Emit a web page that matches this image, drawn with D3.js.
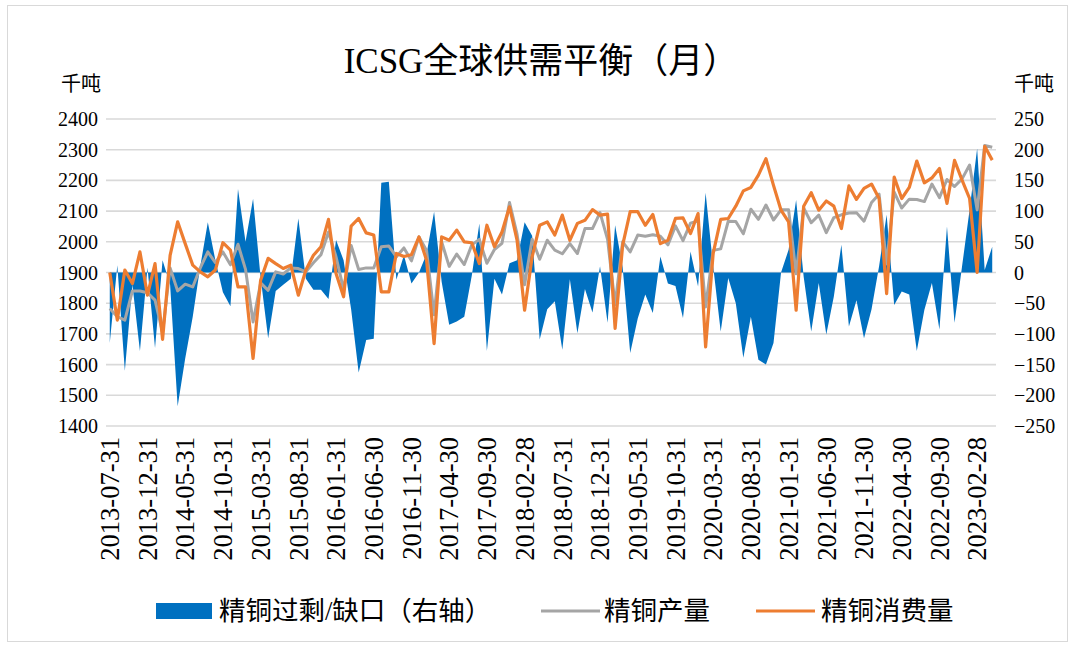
<!DOCTYPE html>
<html>
<head>
<meta charset="utf-8">
<script src="https://cdn.jsdelivr.net/npm/d3@7"></script>
<style>
  body { margin: 0; background: #fff; }
  svg text { font-family: "Liberation Serif", "Noto Sans CJK SC", serif; fill: #000; }
</style>
</head>
<body>
<svg width="1075" height="646"></svg>
<script>
var svg = d3.select("svg");
var width = 1075;
var height = 646;
var margin = { top: 119, right: 79, bottom: 220, left: 106 };   // plot area 106..996 x 119..426

// month labels, 2013-07 .. 2023-04 (month end dates)
var months = [];
for (var y = 2013; y <= 2023; y++) {
    for (var m = 1; m <= 12; m++) {
        if (y === 2013 && m < 7) continue;
        if (y === 2023 && m > 4) continue;
        var last = new Date(Date.UTC(y, m, 0)).getUTCDate();
        months.push(y + "-" + String(m).padStart(2, "0") + "-" + last);
    }
}

// refined copper surplus / deficit, kt (right axis)
var balance = [
    -115, 12, -160, -20, -128, 8, -123, 20, -20, -218,
    -140, -72, 10, 82, 20, -32, -55, 136, 50, 120,
    -8, -107, -30, -20, -10, 88, -10, -28, -28, -43,
    53, 20, -60, -163, -110, -108, 146, 148, -12, 28,
    -18, 0, 30, 99, -15, -85, -80, -72, -5, 80,
    -128, -10, -36, 15, 20, 82, 60, -109, -60, -47,
    -126, -11, -99, -27, -65, 10, -82, 77, 8, -131,
    -75, -36, -66, 26, -18, -22, -74, 34, -23, 130,
    10, -96, -9, -50, -139, -72, -142, -150, -115, 0,
    37, 118, -7, -96, -17, -101, -39, 45, -88, -45,
    -107, -60, 10, 94, -53, -31, -36, -128, -61, -17,
    -93, 75, -82, 10, 102, 202, 4, 42
];

// refined copper production, kt (left axis)
var production = [
    1783, 1756, 1745, 1840, 1840, 1834, 1810, 1705, 1915, 1840,
    1862, 1853, 1915, 1967, 1932, 1967, 1925, 1992, 1910, 1739,
    1866, 1842, 1902, 1895, 1915, 1913, 1902, 1932, 1958, 2032,
    1951, 1845, 1988, 1910, 1915, 1915, 1984, 1986, 1951, 1980,
    1938, 2016, 1972, 1762, 2000, 1920, 1960, 1926, 1990, 2008,
    1930, 1975, 1995, 2128, 2025, 1860, 2008, 1943, 2005, 1973,
    1961, 1994, 1962, 2043, 2043, 2095, 2008, 1795, 2000, 1967,
    2022, 2018, 2023, 2018, 1990, 2052, 2004, 2061, 2068, 1788,
    1972, 1977, 2067, 2066, 2026, 2106, 2073, 2120, 2071, 2104,
    2104, 1896, 2110, 2062, 2087, 2030, 2079, 2088, 2094, 2095,
    2067, 2128, 2155, 1928, 2162, 2110, 2139, 2138, 2131, 2188,
    2144, 2203, 2180, 2205, 2250, 2104, 2314, 2308
];

// refined copper consumption, kt (left axis)
var consumption = [
    1900, 1745, 1908, 1864, 1967, 1826, 1929, 1682, 1956, 2065,
    1994, 1924, 1902, 1886, 1908, 1997, 1973, 1853, 1853, 1620,
    1875, 1946, 1929, 1913, 1924, 1826, 1908, 1956, 1984, 2073,
    1897, 1821, 2051, 2076, 2029, 2022, 1837, 1837, 1962, 1952,
    1958, 2016, 1940, 1668, 2016, 2005, 2038, 2000, 1997, 1929,
    2054, 1984, 2032, 2114, 2005, 1777, 1951, 2054, 2065, 2022,
    2087, 2005, 2060, 2070, 2105, 2087, 2090, 1718, 1989, 2098,
    2098, 2054, 2089, 1994, 2005, 2076, 2078, 2027, 2092, 1658,
    1962, 2073, 2076, 2116, 2166, 2177, 2217, 2271, 2184, 2103,
    2065, 1777, 2116, 2160, 2103, 2133, 2116, 2043, 2182, 2138,
    2174, 2188, 2141, 1831, 2211, 2141, 2177, 2263, 2192, 2208,
    2239, 2125, 2265, 2201, 2141, 1900, 2311, 2266
];

var leftTicks = [1400, 1500, 1600, 1700, 1800, 1900, 2000, 2100, 2200, 2300, 2400];
var rightTicks = [-250, -200, -150, -100, -50, 0, 50, 100, 150, 200, 250];
var seriesNames = ["精铜过剩/缺口（右轴）", "精铜产量", "精铜消费量"];
var colors = ["#0070C0", "#A5A5A5", "#ED7D31"];

// outer frame
svg.append("rect")
    .attr("x", 7.5).attr("y", 5.5)
    .attr("width", 1060).attr("height", 636)
    .attr("fill", "none")
    .attr("stroke", "#D9D9D9");

svg.append("text")
    .attr("x", 541)
    .attr("y", 73)
    .attr("text-anchor", "middle")
    .attr("font-size", 35)
    .text("ICSG全球供需平衡（月）");

svg.append("text").attr("x", 61).attr("y", 91).attr("font-size", 20).text("千吨");
svg.append("text").attr("x", 1014).attr("y", 91).attr("font-size", 20).text("千吨");

// scales in page coordinates
var x = d3.scaleBand()
    .domain(months)
    .range([margin.left, width - margin.right]);

var yLeft = d3.scaleLinear()
    .domain([1400, 2400])
    .range([height - margin.bottom, margin.top]);

var yRight = d3.scaleLinear()
    .domain([-250, 250])
    .range([height - margin.bottom, margin.top]);

var cx = function(d, i) { return x(months[i]) + x.bandwidth() / 2; };

// gridlines
svg.selectAll(".grid")
    .data(leftTicks)
    .enter()
    .append("line")
    .attr("class", "grid")
    .attr("x1", margin.left)
    .attr("x2", width - margin.right)
    .attr("y1", d => yLeft(d))
    .attr("y2", d => yLeft(d))
    .attr("stroke", "#D9D9D9")
    .attr("stroke-width", 1.6);

// left tick labels
svg.selectAll(".ltick")
    .data(leftTicks)
    .enter()
    .append("text")
    .attr("class", "ltick")
    .attr("x", margin.left - 8)
    .attr("y", d => yLeft(d))
    .attr("dy", "0.35em")
    .attr("text-anchor", "end")
    .attr("font-size", 20)
    .text(d3.format("d"));

// right tick labels
svg.selectAll(".rtick")
    .data(rightTicks)
    .enter()
    .append("text")
    .attr("class", "rtick")
    .attr("x", width - margin.right + 18)
    .attr("y", d => yRight(d))
    .attr("dy", "0.35em")
    .attr("text-anchor", "start")
    .attr("font-size", 20)
    .text(d3.format("d"));

// date labels, every 5th month, rotated
var shown = months.filter((d, i) => i % 5 === 0);
svg.selectAll(".xtick")
    .data(shown)
    .enter()
    .append("text")
    .attr("class", "xtick")
    .attr("transform", d => "translate(" + (x(d) + x.bandwidth() / 2) + "," + (height - margin.bottom + 11) + ") rotate(-90)")
    .attr("dy", "0.35em")
    .attr("text-anchor", "end")
    .attr("font-size", 26.5)
    .text(d => d);

// surplus / deficit area
var area = d3.area()
    .x(cx)
    .y0(yRight(0))
    .y1(d => yRight(d));

svg.append("path")
    .datum(balance)
    .attr("d", area)
    .attr("fill", colors[0]);

var line = d3.line()
    .x(cx)
    .y(d => yLeft(d));

svg.append("path")
    .datum(production)
    .attr("d", line)
    .attr("fill", "none")
    .attr("stroke", colors[1])
    .attr("stroke-width", 3)
    .attr("stroke-linejoin", "round");

svg.append("path")
    .datum(consumption)
    .attr("d", line)
    .attr("fill", "none")
    .attr("stroke", colors[2])
    .attr("stroke-width", 3.2)
    .attr("stroke-linejoin", "round");

// legend
var legendY = 611;
var legendX = [[156, 219], [541, 604], [756, 821]];

svg.append("rect")
    .attr("x", legendX[0][0]).attr("y", legendY - 8)
    .attr("width", 56).attr("height", 16)
    .attr("fill", colors[0]);

svg.selectAll(".legline")
    .data([1, 2])
    .enter()
    .append("line")
    .attr("class", "legline")
    .attr("x1", d => legendX[d][0])
    .attr("x2", d => legendX[d][0] + 59)
    .attr("y1", legendY).attr("y2", legendY)
    .attr("stroke", d => colors[d])
    .attr("stroke-width", 3.2);

svg.selectAll(".legtext")
    .data(seriesNames)
    .enter()
    .append("text")
    .attr("class", "legtext")
    .attr("x", (d, i) => legendX[i][1])
    .attr("y", legendY)
    .attr("dy", "0.35em")
    .attr("font-size", 26.5)
    .text(d => d);
</script>
</body>
</html>
